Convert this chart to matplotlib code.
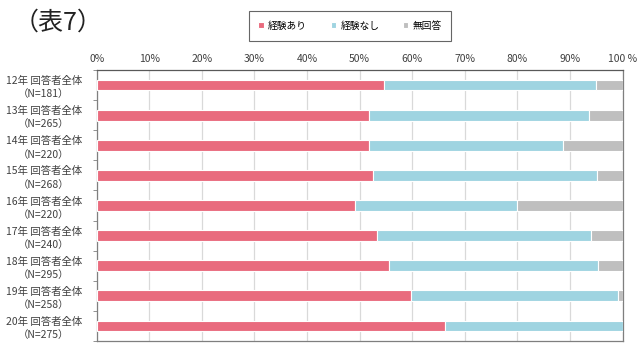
import numpy as np
import matplotlib
matplotlib.use("Agg")
import matplotlib.pyplot as plt

plt.rcParams['font.family'] = ['Noto Sans CJK JP', 'DejaVu Sans']

years = ['12年', '13年', '14年', '15年', '16年', '17年', '18年', '19年', '20年']
n_resp = [181, 265, 220, 268, 220, 240, 295, 258, 275]
ari = [54.7, 51.7, 51.8, 52.6, 49.1, 53.3, 55.6, 59.7, 66.2]
nashi = [40.3, 42.0, 36.8, 42.5, 30.9, 40.8, 39.7, 39.5, 33.8]
mukaito = [5.0, 6.3, 11.4, 4.9, 20.0, 5.9, 4.7, 0.8, 0.0]

series = ['経験あり', '経験なし', '無回答']
colors = ['#E96B7E', '#9FD4E1', '#BFBFBF']

labels = ['%s 回答者全体\n（N=%d）' % (y, n) for y, n in zip(years, n_resp)]

fig = plt.figure(figsize=(6.43, 3.46), dpi=100)
ax = fig.add_axes([96.7/643, 1 - 341/346, (622.5-96.7)/643, (341-70)/346])

y = np.arange(len(years))
left = np.zeros(len(years))
for vals, c, name in zip([ari, nashi, mukaito], colors, series):
    ax.barh(y, vals, left=left, height=0.36, color=c, edgecolor='white',
            linewidth=0.8, label=name, zorder=3)
    left = left + np.array(vals)

ax.set_xlim(0, 100)
ax.set_ylim(len(years) - 0.5, -0.5)
ax.set_xticks(np.arange(0, 101, 10))
ax.set_xticklabels(['%d%%' % v for v in range(0, 100, 10)] + ['100 %'])
ax.xaxis.tick_top()
ax.tick_params(axis='x', length=0, pad=4, labelsize=7.5, colors='#404040')
ax.grid(axis='x', color='#D9D9D9', linewidth=0.9, zorder=0)

ax.set_yticks(y)
ax.set_yticklabels(labels, fontsize=7.5, color='#404040', linespacing=1.4,
                   ha='center')
ax.tick_params(axis='y', length=0, pad=38)
ax.set_yticks(np.arange(-0.5, len(years), 1), minor=True)
ax.tick_params(axis='y', which='minor', length=3, color='#808080')

for side in ['top', 'right', 'left', 'bottom']:
    ax.spines[side].set_color('#7F7F7F')
    ax.spines[side].set_linewidth(0.9)
ax.spines['top'].set_color('#595959')

fig.text(14/643, 1 - 23/346, '（表7）', fontsize=18, va='center', ha='left',
         color='#222222')

leg = fig.legend(loc='center', bbox_to_anchor=(350/643, 1 - 26/346),
                 ncol=3, fontsize=7, frameon=True, fancybox=False,
                 edgecolor='#404040', handlelength=0.5, handleheight=0.5,
                 handletextpad=0.5, columnspacing=2.4, borderpad=1.0)
leg.get_frame().set_linewidth(0.8)
for h in leg.legend_handles:
    h.set_height(4)
    h.set_width(4)
    h.set_y(1)

fig.savefig('out.png', dpi=100)
